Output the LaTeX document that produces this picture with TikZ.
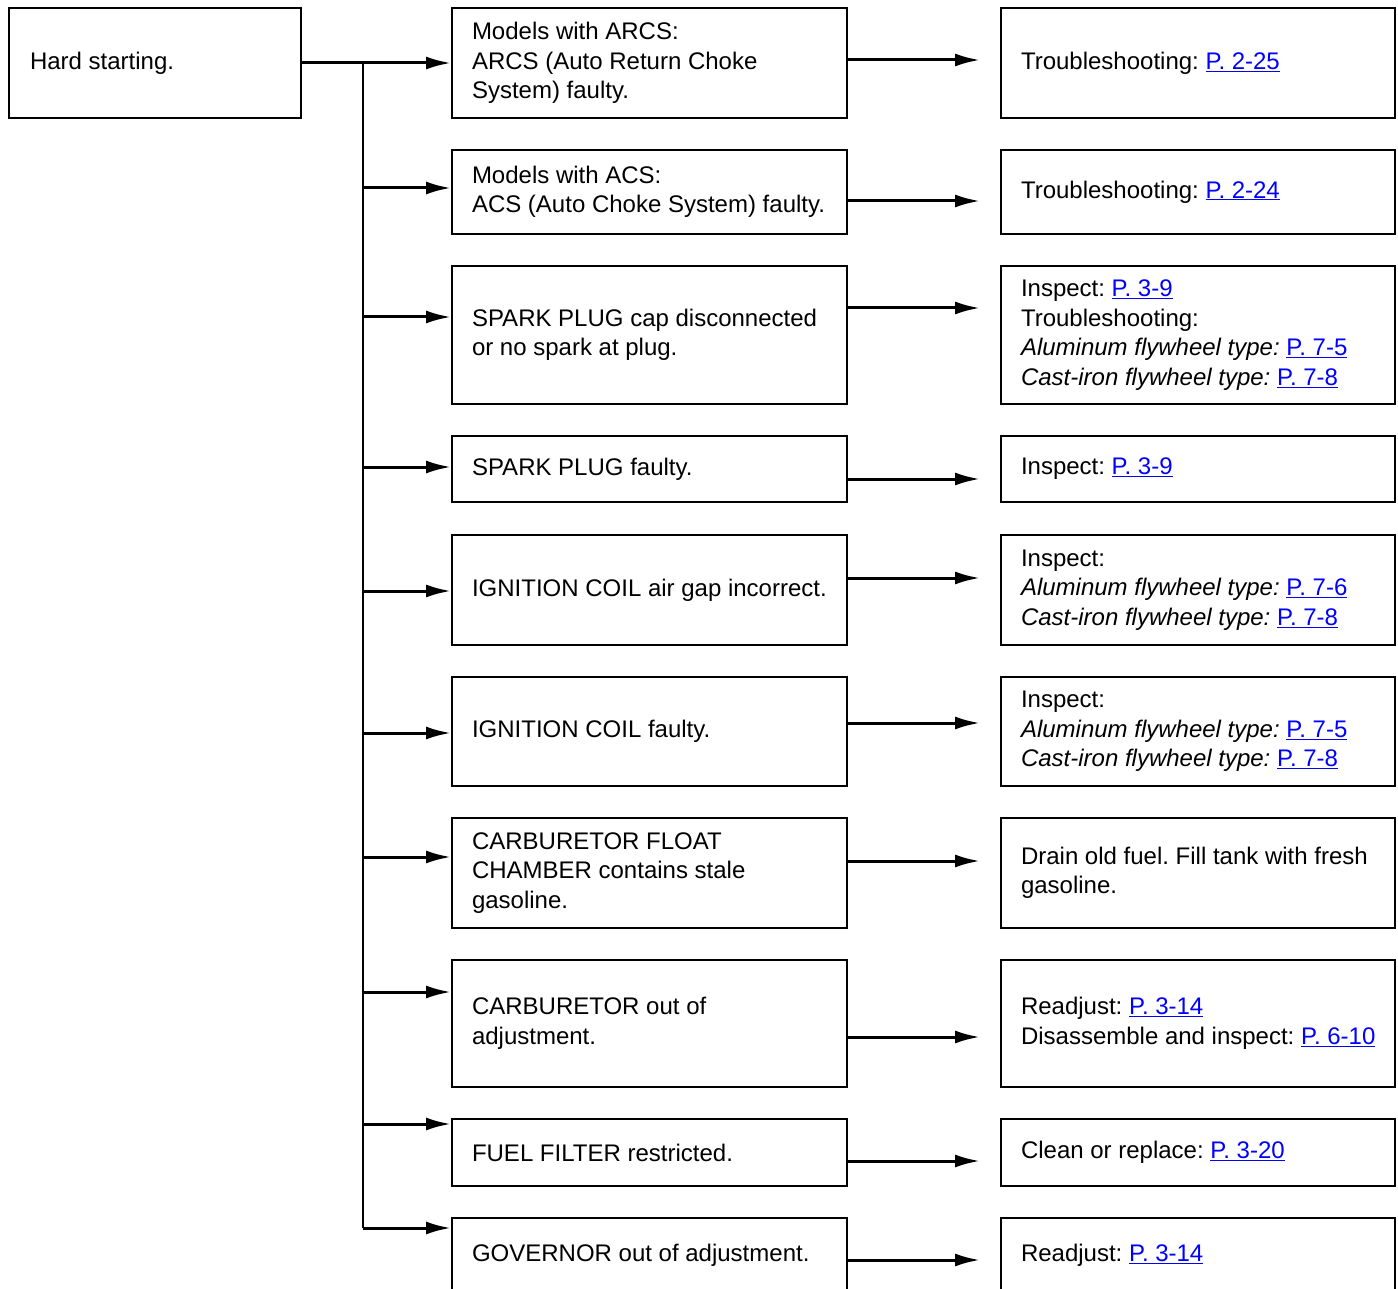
\documentclass[tikz,border=0pt]{standalone}
\usepackage{fontspec}
\setmainfont{Liberation Sans}
\usepackage{xcolor}
\usepackage{tikz}
\usetikzlibrary{arrows.meta, positioning, calc}
\definecolor{linkblue}{RGB}{0,0,255}
\newcommand{\pref}[1]{\textcolor{linkblue}{\underline{#1}}}
\frenchspacing
\tikzset{
  causebox/.style={rectangle, draw=black, line width=2pt,
    minimum width=395pt, text width=355pt, inner xsep=20pt,
    align=flush left, font=\fontsize{24}{29.5}\selectfont},
  fixbox/.style={causebox, minimum width=394pt, text width=354pt},
  startbox/.style={causebox, minimum width=292pt, text width=250pt,
    inner xsep=21pt},
  arrow/.style={-{Latex[length=25pt, width=13pt]}, line width=3pt},
  trunk/.style={line width=2.5pt}
}

\begin{document}
\begin{tikzpicture}[x=1pt, y=-1pt]
  \useasboundingbox (0,0) rectangle (1398,1289);
  \clip (0,0) rectangle (1398,1289);

  % Start
  \node[startbox, minimum height=110pt] (hard) at (155,63) {Hard starting.};

  % Causes
  \node[causebox, minimum height=110pt] (m1) at (649.5,63)
    {Models with ARCS:\\ARCS (Auto Return Choke\\System) faulty.};
  \node[causebox, minimum height=84pt] (m2) at (649.5,192)
    {Models with ACS:\\\mbox{ACS (Auto Choke System) faulty.}};
  \node[causebox, minimum height=138pt] (m3) at (649.5,335)
    {SPARK PLUG cap disconnected\\or no spark at plug.};
  \node[causebox, minimum height=66pt] (m4) at (649.5,469) {SPARK PLUG faulty.};
  \node[causebox, minimum height=110pt] (m5) at (649.5,590)
    {\mbox{IGNITION COIL air gap incorrect.}};
  \node[causebox, minimum height=109pt] (m6) at (649.5,731.5)
    {IGNITION COIL faulty.};
  \node[causebox, minimum height=110pt] (m7) at (649.5,873)
    {CARBURETOR FLOAT\\CHAMBER contains stale\\gasoline.};
  \node[causebox, minimum height=127pt] (m8) at (649.5,1023.5)
    {CARBURETOR out of\\adjustment.};
  \node[causebox, minimum height=67pt] (m9) at (649.5,1152.5)
    {FUEL FILTER restricted.};
  \node[causebox, minimum height=74pt] (m10) at (649.5,1255)
    {GOVERNOR out of adjustment.};

  % Remedies
  \node[fixbox, minimum height=110pt] (r1) at (1198,63)
    {Troubleshooting: \pref{P. 2-25}};
  \node[fixbox, minimum height=84pt] (r2) at (1198,192)
    {Troubleshooting: \pref{P. 2-24}};
  \node[fixbox, minimum height=138pt] (r3) at (1198,335)
    {Inspect: \pref{P. 3-9}\\Troubleshooting:\\
     \textit{Aluminum flywheel type:} \pref{P. 7-5}\\
     \textit{Cast-iron flywheel type:} \pref{P. 7-8}};
  \node[fixbox, minimum height=66pt] (r4) at (1198,469)
    {Inspect: \pref{P. 3-9}};
  \node[fixbox, minimum height=110pt] (r5) at (1198,590)
    {Inspect:\\\textit{Aluminum flywheel type:} \pref{P. 7-6}\\
     \textit{Cast-iron flywheel type:} \pref{P. 7-8}};
  \node[fixbox, minimum height=109pt] (r6) at (1198,731.5)
    {Inspect:\\\textit{Aluminum flywheel type:} \pref{P. 7-5}\\
     \textit{Cast-iron flywheel type:} \pref{P. 7-8}};
  \node[fixbox, minimum height=110pt] (r7) at (1198,873)
    {\mbox{Drain old fuel. Fill tank with fresh}\\gasoline.};
  \node[fixbox, minimum height=127pt] (r8) at (1198,1023.5)
    {Readjust: \pref{P. 3-14}\\\mbox{Disassemble and inspect: \pref{P. 6-10}}};
  \node[fixbox, minimum height=67pt] (r9) at (1198,1152.5)
    {Clean or replace: \pref{P. 3-20}};
  \node[fixbox, minimum height=74pt] (r10) at (1198,1255)
    {Readjust: \pref{P. 3-14}};

  % Trunk
  \coordinate (top) at (363,63);
  \coordinate (bot) at (363,1228);
  \draw[trunk] (top) -- (bot);
  \draw[arrow] (hard.east) -- (m1.west);

  % Branches
  \foreach \n/\y in {m2/188, m3/317, m4/467, m5/591, m6/733,
                     m7/857, m8/992, m9/1124, m10/1228}
    \draw[arrow] (top |- 0,\y) -- (\n.west |- 0,\y);

  % To remedies
  \foreach \n/\y in {1/60, 2/201, 3/308, 4/479, 5/578, 6/723,
                     7/861, 8/1037, 9/1161, 10/1260}
    \draw[arrow, shorten >=20pt] (m\n.east |- 0,\y) -- (r\n.west |- 0,\y);
\end{tikzpicture}
\end{document}
